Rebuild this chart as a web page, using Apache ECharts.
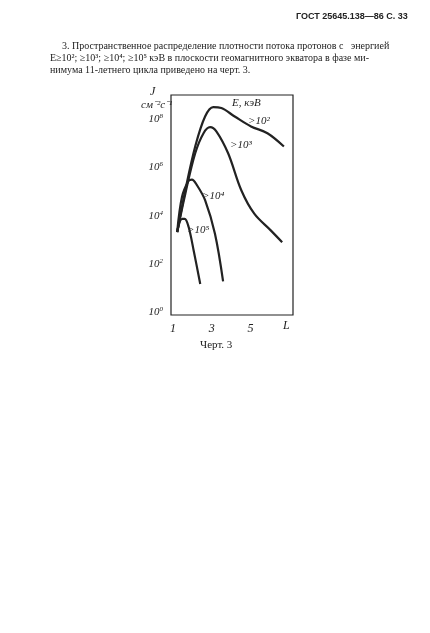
<!DOCTYPE html>
<html>
<head>
<meta charset="UTF-8">
<style>html,body{margin:0;background:#fff}#main{width:430px;height:633px}</style>
</head>
<body>
<div id="main"></div>
<script src="https://cdn.jsdelivr.net/npm/echarts@6/dist/echarts.min.js"></script>
<script>
// L (earth radii) and log10 J for each energy threshold
const s100 = [[1.22,3.33],[1.64,5.06],[2.15,6.87],[2.66,8.11],[3.08,8.5],[3.5,8.46],[4.19,8.11],[5.03,7.7],[5.88,7.42],[6.73,6.87]];
const s1000 = [[1.22,3.33],[1.64,4.92],[2.15,6.59],[2.58,7.42],[2.92,7.67],[3.25,7.49],[3.85,6.59],[4.53,5.06],[5.2,4.09],[6.05,3.4],[6.64,2.91]];
const s1e4 = [[1.22,3.33],[1.47,4.79],[1.81,5.45],[1.98,5.5],[2.24,5.27],[2.66,4.65],[3.17,3.26],[3.59,1.29]];
const s1e5 = [[1.22,3.33],[1.47,3.88],[1.61,3.88],[1.81,3.54],[2.07,2.57],[2.41,1.18]];
const yTicks = [0, 2, 4, 6, 8];
const xTicks = [1, 3, 5];

const serif = 'Liberation Serif';
const ink = '#222';
const myChart = echarts.init(document.getElementById('main'));
const line = d => ({type:'line', data:d, smooth:0.35, symbol:'none', lineStyle:{color:ink, width:2.2}});
myChart.setOption({
  animation:false,
  grid:{left:171, top:95, width:122, height:220, show:true, borderColor:ink, borderWidth:1.2},
  xAxis:{type:'value', min:0.9, max:7.2, interval:0.1, splitLine:{show:false},
    axisLine:{show:false}, axisTick:{show:false},
    axisLabel:{color:ink, fontFamily:serif, fontStyle:'italic', fontSize:12,
      formatter:v => xTicks.some(t => Math.abs(t - v) < 1e-6) ? String(Math.round(v)) : ''}},
  yAxis:[{type:'value', min:-0.1, max:9, interval:0.1, splitLine:{show:false},
    axisLine:{show:false}, axisTick:{show:false},
    axisLabel:{color:ink, fontFamily:serif, fontStyle:'italic', fontSize:11,
      formatter:v => {const n = Math.round(v*10)/10; return yTicks.includes(n) ? '10{s|' + n + '}' : '';},
      rich:{s:{fontSize:7, verticalAlign:'top', padding:[0,0,6,0], fontFamily:serif}}}}],
  series:[line(s100), line(s1000), line(s1e4), line(s1e5)],
  graphic:[
    {type:'text', left:296, top:12, style:{text:'ГОСТ 25645.138—86 С. 33', font:'bold 9px Liberation Sans', fill:ink}},
    {type:'text', left:62, top:41, style:{text:'3. Пространственное распределение плотности потока протонов с   энергией', font:'10px Liberation Serif', fill:ink}},
    {type:'text', left:50, top:53, style:{text:'E≥10²; ≥10³; ≥10⁴; ≥10⁵ кэВ в плоскости геомагнитного экватора в фазе ми-', font:'10px Liberation Serif', fill:ink}},
    {type:'text', left:50, top:65, style:{text:'нимума 11-летнего цикла приведено на черт. 3.', font:'10px Liberation Serif', fill:ink}},
    {type:'text', left:150, top:86, style:{text:'J', font:'italic 12px Liberation Serif', fill:ink}},
    {type:'text', left:141, top:100, style:{text:'см⁻²с⁻¹', font:'italic 11px Liberation Serif', fill:ink}},
    {type:'text', left:232, top:98, style:{text:'E, кэВ', font:'italic 11px Liberation Serif', fill:ink}},
    {type:'text', left:248, top:116, style:{text:'>10²', font:'italic 11px Liberation Serif', fill:ink}},
    {type:'text', left:230, top:140, style:{text:'>10³', font:'italic 11px Liberation Serif', fill:ink}},
    {type:'text', left:202, top:191, style:{text:'>10⁴', font:'italic 11px Liberation Serif', fill:ink}},
    {type:'text', left:187, top:225, style:{text:'>10⁵', font:'italic 11px Liberation Serif', fill:ink}},
    {type:'text', left:283, top:320, style:{text:'L', font:'italic 12px Liberation Serif', fill:ink}},
    {type:'text', left:200, top:340, style:{text:'Черт. 3', font:'11px Liberation Serif', fill:ink}}
  ]
});
</script>
</body>
</html>
